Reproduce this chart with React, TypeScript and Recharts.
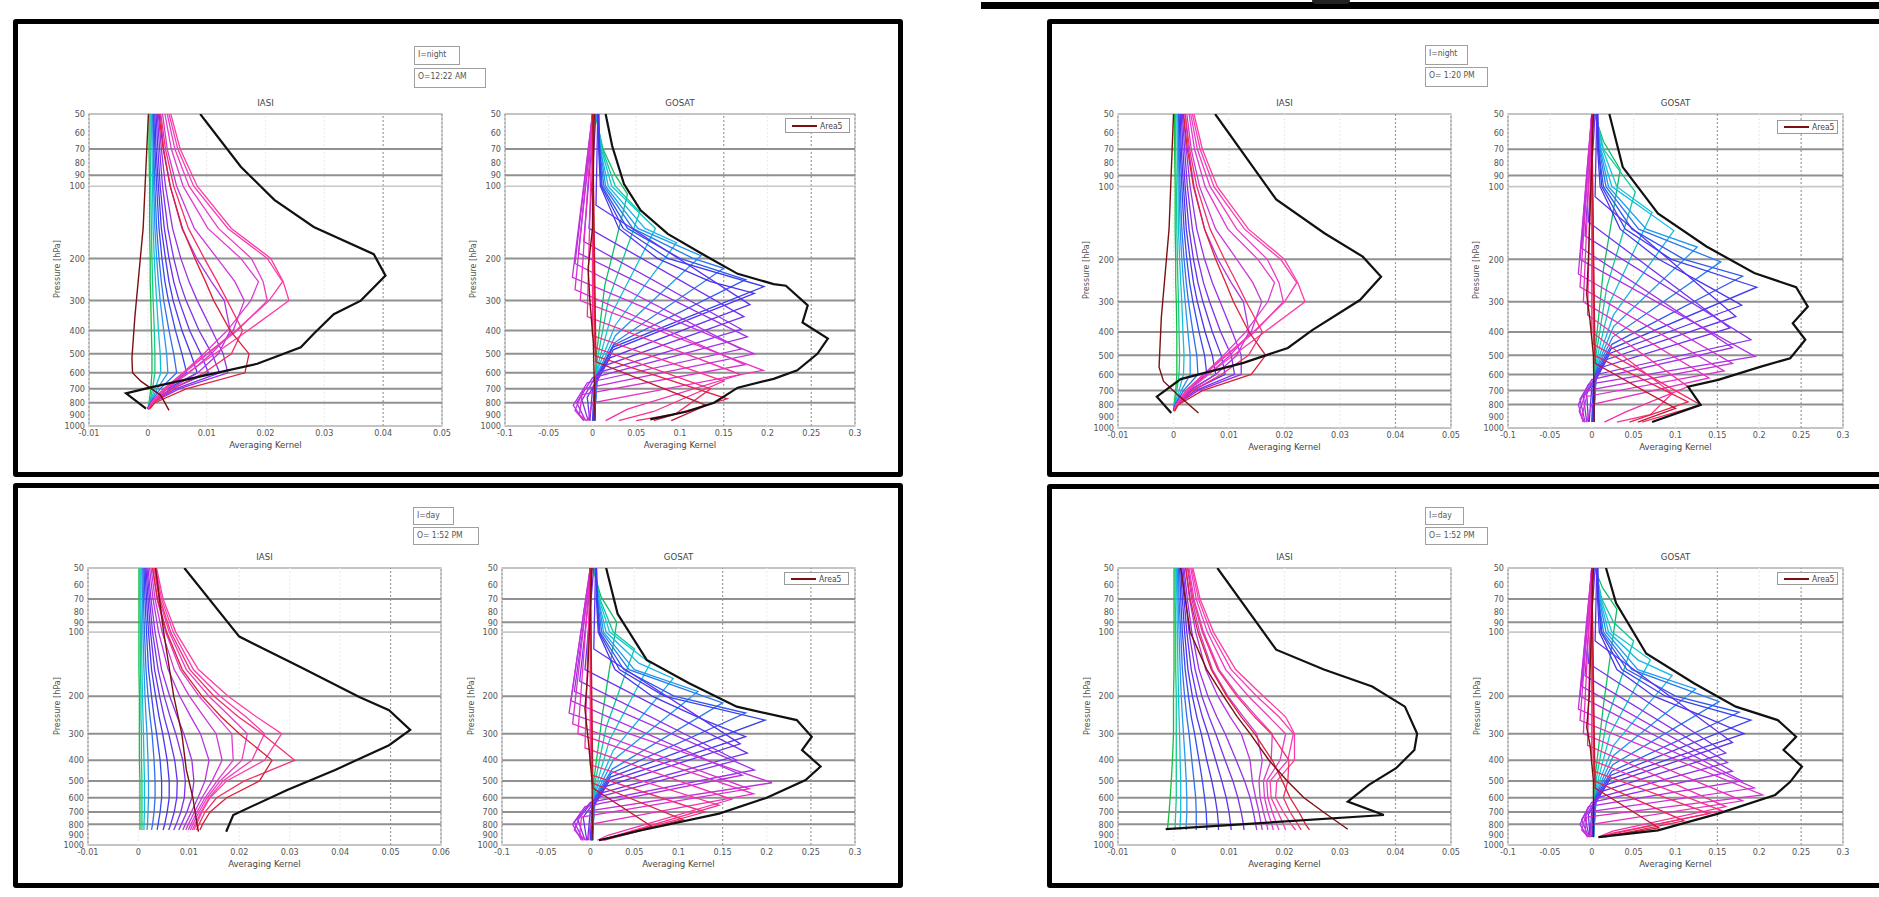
import React from 'react';
import { LineChart, Line, XAxis, YAxis, ReferenceLine, ReferenceArea } from 'recharts';

// ---------- axes ----------
const PRESSURE_TICKS = [50, 60, 70, 80, 90, 100, 200, 300, 400, 500, 600, 700, 800, 900, 1000];
const GRID_DARK = [70, 90, 200, 300, 400, 500, 600, 700, 800];
const GRID_LIGHT = [100];
const IASI_LEVELS = [50, 70, 100, 150, 200, 250, 300, 400, 500, 600, 700, 800, 850];
const IASI_TICKS = [-0.01, 0, 0.01, 0.02, 0.03, 0.04, 0.05];
const IASI_TICKS_WIDE = [-0.01, 0, 0.01, 0.02, 0.03, 0.04, 0.05, 0.06];
const GOSAT_TICKS = [-0.1, -0.05, 0, 0.05, 0.1, 0.15, 0.2, 0.25, 0.3];

const IASI_COLORS = ['#14c040', '#14c890', '#14c0d4', '#2898f0', '#3070f0', '#3848f0', '#4a34f0', '#6430f0', '#7e30ec',
  '#9830e8', '#b434e0', '#cc38d8', '#e03cd0', '#ec3cc4', '#f83cb4', '#ff3ca4', '#f4306c', '#dc2038'];
const GOSAT_COLORS = ['#10c060', '#10c8a0', '#10c8d0', '#18b8e8', '#2098f0', '#2878f0', '#3058f0', '#3a40f0', '#4a34f0',
  '#5c30f0', '#7030f0', '#8630ec', '#9c30e8', '#b030e4', '#c430dc', '#d830d0', '#e830c0', '#f430a8', '#fc308c',
  '#f42c6c', '#e6244c', '#c01830'];
const AREA5_COLOR = '#7a1010';

// ---------- IASI kernels (averaging kernel x 1e-3 at IASI_LEVELS) ----------
const nightAmIasiKernels = [
  [0.2, 0.2, 0.3, 0.3, 0.4, 0.4, 0.5, 0.6, 0.7, 0.7, 0.5, 0.2, 0],
  [0.4, 0.4, 0.5, 0.6, 0.7, 0.8, 0.9, 1.1, 1.2, 1.2, 0.8, 0.3, 0],
  [0.6, 0.7, 0.8, 0.9, 1.1, 1.3, 1.5, 1.8, 2.1, 2.2, 1.2, 0.3, 0],
  [0.8, 0.9, 1, 1.2, 1.5, 1.8, 2.1, 2.7, 3.2, 3.4, 1.6, 0.4, 0],
  [0.9, 1, 1.2, 1.5, 1.9, 2.3, 2.7, 3.6, 4.4, 4.9, 2.1, 0.4, 0],
  [1, 1.2, 1.5, 1.9, 2.4, 2.9, 3.5, 4.7, 5.8, 6.6, 2.7, 0.5, 0],
  [1.2, 1.4, 1.8, 2.3, 3, 3.6, 4.3, 5.8, 7.3, 8.4, 3.3, 0.5, 0],
  [1.4, 1.7, 2.1, 2.8, 3.6, 4.4, 5.3, 7.1, 9, 10.3, 4, 0.6, 0.1],
  [1.6, 2, 2.5, 3.4, 4.4, 5.4, 6.5, 8.7, 10.9, 12.2, 4.7, 0.7, 0.1],
  [1.8, 2.3, 3, 4.2, 5.6, 7, 8.4, 10.9, 12.8, 13.6, 5.3, 0.8, 0.1],
  [2.1, 2.7, 3.8, 5.8, 8.3, 10.8, 13, 14, 12, 8.5, 3.8, 0.7, 0.1],
  [2.5, 3.3, 4.9, 7.9, 11.8, 14.8, 16.4, 14.5, 10.8, 7, 3.2, 0.7, 0.1],
  [2.9, 4, 6, 10.2, 15.8, 18.8, 17.5, 13.5, 9.5, 6, 2.8, 0.6, 0.1],
  [3.3, 4.6, 7, 12, 17.6, 19.6, 20.3, 15.2, 10.2, 6.2, 2.8, 0.6, 0.1],
  [3.6, 5.1, 7.8, 13.6, 20.3, 22.9, 20.6, 15, 10, 6, 2.7, 0.6, 0.1],
  [3.9, 5.5, 8.4, 14.2, 20.9, 23, 24, 17, 11.4, 6.8, 3, 0.6, 0.1],
  [2.2, 3, 4.4, 6.9, 9.6, 11.8, 13.5, 16.1, 14.2, 9.6, 4.2, 0.9, 0.2],
  [1.9, 2.6, 3.8, 5.9, 8, 9.8, 11.2, 14, 17.2, 16.5, 6.5, 1.2, 0.3],
];
// [value x 1e-3, pressure] pairs
const nightAmIasiTotal = [8.9, 50, 15.8, 83, 21.5, 114, 28.2, 148, 38.4, 192, 40.4, 236, 36.2, 300, 31.6, 342, 28.2, 412, 26, 470, 18.6, 550, 0.5, 690, -3.7, 731, -0.3, 846];
const nightAmIasiArea5 = [0.1, 50, -0.8, 150, -2.2, 350, -2.7, 520, -2.6, 600, -1.2, 650, 2.2, 745, 3.6, 860];

const nightPmIasiKernels = [
  [0.2, 0.2, 0.3, 0.3, 0.4, 0.4, 0.5, 0.6, 0.6, 0.6, 0.4, 0.1, 0],
  [0.4, 0.4, 0.5, 0.6, 0.7, 0.8, 0.9, 1, 1.1, 1, 0.6, 0.2, 0],
  [0.6, 0.7, 0.8, 0.9, 1.1, 1.3, 1.5, 1.7, 1.9, 1.8, 1, 0.2, 0],
  [0.8, 0.9, 1, 1.2, 1.5, 1.8, 2.1, 2.6, 3, 3, 1.4, 0.3, 0],
  [0.9, 1, 1.2, 1.5, 1.9, 2.3, 2.7, 3.5, 4.2, 4.4, 1.8, 0.3, 0],
  [1, 1.2, 1.5, 1.9, 2.4, 2.9, 3.5, 4.6, 5.6, 6, 2.3, 0.4, 0],
  [1.2, 1.4, 1.8, 2.3, 3, 3.6, 4.3, 5.7, 7, 7.6, 2.8, 0.4, 0],
  [1.4, 1.7, 2.1, 2.8, 3.6, 4.4, 5.3, 7, 8.6, 9.3, 3.3, 0.5, 0],
  [1.6, 2, 2.5, 3.4, 4.4, 5.4, 6.5, 8.5, 10.4, 11, 3.9, 0.5, 0.1],
  [1.8, 2.3, 3, 4.2, 5.6, 7, 8.4, 10.6, 12.2, 12.2, 4.4, 0.6, 0.1],
  [2.1, 2.7, 3.7, 5.6, 8, 10.4, 12.6, 13.6, 11.4, 7.6, 3, 0.5, 0.1],
  [2.4, 3.2, 4.7, 7.6, 11.4, 14.3, 15.9, 14, 10.2, 6.3, 2.6, 0.5, 0.1],
  [2.8, 3.8, 5.7, 9.8, 15.2, 18.2, 17, 13, 9, 5.4, 2.3, 0.5, 0.1],
  [3.1, 4.3, 6.6, 11.4, 16.9, 19, 19.8, 14.6, 9.6, 5.6, 2.3, 0.5, 0.1],
  [3.4, 4.8, 7.3, 12.8, 19.3, 22.2, 20, 14.4, 9.4, 5.4, 2.2, 0.5, 0.1],
  [3.7, 5.2, 7.9, 13.5, 20, 22.4, 23.7, 16.4, 10.8, 6.2, 2.5, 0.5, 0.1],
  [2.1, 2.9, 4.2, 6.6, 9.2, 11.4, 13.1, 16, 13.5, 8.6, 3.5, 0.7, 0.2],
  [1.8, 2.5, 3.6, 5.6, 7.6, 9.4, 10.8, 13.6, 16.6, 14, 5.2, 0.9, 0.2],
];
const nightPmIasiTotal = [7.5, 50, 18.5, 113, 27.2, 156, 34.1, 195, 37.4, 236, 33.6, 295, 25, 393, 20.6, 466, 12.6, 537, 1.3, 627, -3, 742, -0.4, 866];
const nightPmIasiArea5 = [0, 50, -0.8, 150, -2.2, 350, -2.6, 560, -1.8, 640, 0.5, 720, 4.5, 866];

const dayLeftIasiKernels = [
  [0.1, 0.1, 0.1, 0.1, 0.2, 0.2, 0.2, 0.2, 0.3, 0.3, 0.3, 0.3, 0.3],
  [0.3, 0.3, 0.4, 0.4, 0.5, 0.5, 0.6, 0.6, 0.7, 0.7, 0.7, 0.7, 0.7],
  [0.5, 0.5, 0.6, 0.7, 0.8, 0.9, 1, 1.1, 1.2, 1.2, 1.2, 1.1, 1.1],
  [0.7, 0.8, 0.9, 1.1, 1.3, 1.5, 1.7, 1.9, 2, 2, 1.9, 1.8, 1.7],
  [0.9, 1, 1.2, 1.5, 1.9, 2.3, 2.7, 3.1, 3.3, 3.3, 3.1, 2.8, 2.6],
  [1.1, 1.3, 1.6, 2, 2.6, 3.1, 3.6, 4.3, 4.6, 4.6, 4.3, 3.9, 3.7],
  [1.3, 1.6, 2, 2.6, 3.4, 4.1, 4.8, 5.7, 6.1, 6.1, 5.7, 5.2, 4.9],
  [1.5, 1.9, 2.4, 3.2, 4.2, 5.1, 6, 7.2, 7.7, 7.6, 7.1, 6.4, 6],
  [1.7, 2.2, 2.8, 3.9, 5.1, 6.3, 7.4, 8.8, 9.3, 9.1, 8.4, 7.5, 7],
  [1.9, 2.5, 3.3, 4.6, 6.2, 7.7, 9, 10.6, 11, 10.6, 9.6, 8.5, 8],
  [2.2, 2.9, 4, 5.9, 8.2, 10.4, 12.3, 14, 13.2, 11.8, 10.5, 9.3, 8.8],
  [2.5, 3.3, 4.7, 7.1, 10.1, 13, 15.4, 16.6, 14.6, 12.6, 11.1, 9.9, 9.4],
  [2.8, 3.7, 5.4, 8.3, 12, 15.6, 18.5, 18.8, 15.6, 13.2, 11.6, 10.4, 9.9],
  [3.1, 4.1, 6.1, 9.5, 14, 18.2, 21.6, 20.5, 16.2, 13.6, 12, 10.8, 10.3],
  [3.4, 4.6, 6.9, 10.9, 16.2, 21.3, 25, 22.5, 16.8, 14, 12.4, 11.2, 10.7],
  [3.6, 4.9, 7.4, 11.9, 17.8, 23.4, 28.4, 25, 17.5, 14.2, 12.6, 11.5, 11],
  [3.2, 4.3, 6.4, 10.2, 15, 19.8, 24.5, 31, 21, 15.5, 13.2, 12, 11.5],
  [2.8, 3.8, 5.6, 8.7, 12.6, 16.4, 20, 26.5, 24, 17.5, 14.2, 12.7, 12.2],
];
const dayLeftIasiTotal = [9.1, 50, 20, 105, 31.9, 145, 43.8, 202, 49.7, 233, 53.9, 288, 49.7, 340, 39, 444, 29.5, 551, 18.8, 723, 17.4, 866];
const dayLeftIasiArea5 = [3.4, 50, 5, 100, 7, 200, 8.6, 300, 9.5, 444, 10.8, 600, 11.7, 823, 11.9, 866];

const dayRightIasiKernels = [
  [0.1, 0.1, 0.1, 0.1, 0, 0, 0, -0.2, -0.4, -0.6, -0.8, -1, -1.1],
  [0.3, 0.3, 0.4, 0.4, 0.5, 0.5, 0.5, 0.5, 0.5, 0.5, 0.4, 0.3, 0.3],
  [0.5, 0.6, 0.7, 0.8, 0.9, 1, 1.1, 1.2, 1.3, 1.3, 1.3, 1.2, 1.2],
  [0.7, 0.8, 1, 1.2, 1.4, 1.6, 1.8, 2.1, 2.3, 2.4, 2.4, 2.3, 2.3],
  [0.9, 1, 1.3, 1.6, 2, 2.4, 2.8, 3.3, 3.7, 4, 4.1, 4.1, 4.1],
  [1.1, 1.3, 1.6, 2.1, 2.7, 3.2, 3.8, 4.6, 5.2, 5.6, 5.9, 6, 6],
  [1.3, 1.6, 2, 2.6, 3.4, 4.2, 5, 6, 6.9, 7.5, 7.9, 8.1, 8.1],
  [1.5, 1.9, 2.4, 3.2, 4.2, 5.2, 6.2, 7.6, 8.7, 9.5, 10, 10.3, 10.4],
  [1.7, 2.2, 2.8, 3.9, 5.1, 6.4, 7.6, 9.3, 10.7, 11.6, 12.2, 12.6, 12.7],
  [1.9, 2.5, 3.3, 4.6, 6.2, 7.8, 9.3, 11.3, 12.8, 13.8, 14.4, 14.8, 15],
  [2.2, 2.9, 4, 5.8, 8, 10.2, 12.2, 13.8, 14.2, 14.8, 15.4, 15.8, 16],
  [2.5, 3.3, 4.7, 7, 9.8, 12.6, 15, 16, 15.4, 15.6, 16.2, 16.8, 17],
  [2.8, 3.7, 5.4, 8.2, 11.7, 15, 17.8, 17.6, 16.2, 16.4, 17, 17.7, 18],
  [3.1, 4.1, 6.1, 9.4, 13.5, 17.2, 20.2, 19.2, 16.8, 17, 17.8, 18.6, 19],
  [3.3, 4.5, 6.7, 10.4, 15, 19, 21.6, 20.6, 17.4, 17.6, 18.8, 19.8, 20.2],
  [3.5, 4.8, 7.2, 11.2, 16.2, 20.2, 21.8, 21.8, 18.6, 18.4, 19.8, 21.2, 22],
  [2.6, 3.5, 5.2, 8, 11.4, 14.6, 17.6, 20.8, 20.6, 19.8, 21, 22.4, 23],
  [2.2, 3, 4.4, 6.8, 9.6, 12.2, 14.6, 17.8, 19.6, 21, 22.6, 23.8, 24.5],
];
const dayRightIasiTotal = [7.9, 50, 18.5, 121, 27.1, 150, 35.8, 180, 41.7, 224, 43.9, 300, 43.4, 358, 40.1, 436, 35.2, 522, 31.4, 625, 37.9, 723, -1.4, 843];
const dayRightIasiArea5 = [1.3, 50, 3, 100, 6, 150, 9, 200, 11.5, 250, 13.8, 300, 17.2, 400, 20.5, 500, 23.5, 600, 27, 700, 31.4, 843];

// ---------- GOSAT kernels ([value x 1e-2, pressure] pairs) ----------
const nightAmGosatKernels = [
  [0.3, 50, 1.2, 70, 2.6, 90, 4, 108, 1.4, 260, 0.4, 520, 0.2, 950],
  [0.4, 50, 1.1, 70, 2.6, 100, 5.4, 128, 1.8, 300, 0.5, 540, 0.2, 950],
  [0.5, 50, 1, 70, 2.2, 100, 7.2, 150, 2.2, 340, 0.6, 560, 0.2, 950],
  [0.5, 50, 0.9, 70, 1.8, 100, 6, 150, 9.6, 172, 2.6, 380, 0.6, 580, 0.2, 950],
  [0.6, 50, 0.9, 70, 1.5, 100, 5.2, 150, 12.4, 195, 2.6, 420, 0.6, 600, 0.2, 950],
  [0.6, 50, 0.8, 70, 1.3, 100, 4.6, 150, 11.5, 200, 15, 220, 2.5, 450, 0.5, 620, 0.2, 950],
  [0.7, 50, 0.8, 70, 1.1, 100, 4, 150, 10, 200, 17.5, 245, 2.4, 460, 0.4, 640, 0.1, 950],
  [0.7, 50, 0.8, 70, 1, 100, 3.5, 150, 8.6, 200, 19.6, 262, 2.3, 470, 0.3, 660, 0.1, 950],
  [0.7, 50, 0.7, 70, 0.9, 100, 3, 150, 7.4, 200, 13.5, 250, 18.5, 280, 2.4, 480, 0.2, 680, 0, 950],
  [0.6, 50, 0.4, 120, 18, 312, 2, 520, 0, 700, -0.3, 950],
  [0.4, 50, -0.4, 150, 17.3, 350, 1.4, 560, -0.6, 760, -0.3, 950],
  [0.2, 50, -1, 170, 17, 395, 0.6, 600, -1.2, 780, -0.5, 950],
  [0.1, 50, -1.6, 190, 17.7, 425, 0, 630, -1.8, 800, -0.8, 950],
  [0, 50, -2, 210, 17, 478, -0.6, 660, -2.2, 820, -1, 950],
  [0, 50, -2.3, 240, 18.5, 500, -1, 700, -2, 860, -1, 950],
  [0, 50, -2, 270, 17.4, 555, -1.2, 740, -1.5, 900, -0.6, 950],
  [0, 50, -1.4, 300, 19.5, 586, 0, 800, -0.5, 950],
  [0, 50, -0.6, 350, 16.9, 610, 4, 850, 1.5, 950],
  [0, 50, 0, 420, 15, 650, 7, 870, 3, 950],
  [0, 50, 0.2, 470, 13.5, 700, 9.5, 890, 5, 950],
  [0, 50, 0.3, 510, 15.4, 770, 7, 950],
  [0, 50, 0.4, 540, 13, 820, 9, 950],
];
const nightAmGosatTotal = [1.5, 50, 2.25, 68, 3.6, 98, 5.5, 126, 8.6, 158, 13.1, 197, 16.6, 232, 20.7, 256, 22.1, 260, 24.6, 314, 24, 370, 26.9, 432, 25.7, 500, 23.4, 586, 20.7, 636, 16.6, 692, 13.9, 800, 10.8, 870, 6.6, 938];
const nightAmGosatArea5 = [0.2, 50, 0, 150, -0.5, 220, -0.3, 300, 0.1, 450, 0.3, 950];

const nightPmGosatKernels = [
  [0.3, 50, 1.4, 65, 3.4, 85, 1.4, 220, 0.4, 480, 0.2, 945],
  [0.4, 50, 1.4, 70, 5.2, 105, 1.8, 260, 0.5, 500, 0.2, 945],
  [0.5, 50, 1.3, 70, 3, 100, 7.2, 128, 2.2, 300, 0.6, 520, 0.2, 945],
  [0.5, 50, 1.1, 70, 2.4, 100, 9.8, 152, 2.6, 340, 0.6, 540, 0.2, 945],
  [0.6, 50, 1, 70, 2, 100, 6.5, 150, 12.6, 178, 2.6, 380, 0.6, 560, 0.2, 945],
  [0.6, 50, 0.9, 70, 1.7, 100, 5.6, 150, 15.4, 205, 2.5, 420, 0.5, 580, 0.2, 945],
  [0.7, 50, 0.8, 70, 1.4, 100, 4.8, 150, 11, 200, 18, 235, 2.4, 450, 0.4, 600, 0.1, 945],
  [0.7, 50, 0.8, 70, 1.2, 100, 4, 150, 9.5, 200, 19.7, 261, 2.3, 470, 0.3, 620, 0.1, 945],
  [0.7, 50, 0.7, 70, 1, 100, 3.4, 150, 8, 200, 14, 260, 17.9, 310, 2.2, 490, 0.2, 640, 0, 945],
  [0.6, 50, 0.4, 110, 17.2, 345, 1.8, 520, 0, 680, -0.3, 945],
  [0.4, 50, -0.4, 140, 16.5, 385, 1.2, 560, -0.6, 720, -0.4, 945],
  [0.2, 50, -0.8, 160, 19, 431, 0.6, 600, -1, 740, -0.6, 945],
  [0.1, 50, -1.2, 180, 16.8, 465, 0, 630, -1.4, 760, -0.8, 945],
  [0, 50, -1.4, 200, 19.5, 505, -0.4, 660, -1.6, 800, -1, 945],
  [0, 50, -1.6, 230, 16.8, 540, -0.6, 700, -1.5, 850, -1, 945],
  [0, 50, -1.4, 260, 15.8, 580, -0.6, 740, -1.2, 900, -0.8, 945],
  [0, 50, -1, 300, 14, 620, 0, 800, -0.6, 945],
  [0, 50, -0.5, 340, 11.5, 674, 4, 860, 1.5, 945],
  [0, 50, 0, 400, 9.6, 720, 7, 880, 3, 945],
  [0, 50, 0.2, 450, 13, 802, 6, 945],
  [0, 50, 0.3, 500, 11.5, 780, 4.5, 945],
  [0, 50, 0.4, 540, 10, 830, 5.5, 945],
];
const nightPmGosatTotal = [2.1, 50, 3.7, 83, 7.9, 129, 13.7, 177, 19.4, 228, 24.4, 261, 25.8, 314, 24, 368, 25.5, 431, 23.7, 514, 20.1, 558, 15.1, 632, 11.5, 674, 13, 802, 7.2, 945];
const nightPmGosatArea5 = [0.2, 50, -0.4, 200, -0.6, 280, -0.2, 360, 0.2, 500, 0.3, 945];

const dayLeftGosatKernels = [
  [0.3, 50, 1.2, 68, 3, 90, 1.4, 240, 0.4, 500, 0.2, 950],
  [0.4, 50, 1.1, 70, 2.6, 100, 5, 120, 1.8, 280, 0.5, 520, 0.2, 950],
  [0.5, 50, 1, 70, 2.2, 100, 6.8, 140, 2.2, 320, 0.6, 540, 0.2, 950],
  [0.5, 50, 0.9, 70, 1.8, 100, 5.5, 140, 9.4, 165, 2.6, 360, 0.6, 560, 0.2, 950],
  [0.6, 50, 0.9, 70, 1.5, 100, 5, 150, 12.2, 190, 2.6, 400, 0.6, 580, 0.2, 950],
  [0.6, 50, 0.8, 70, 1.3, 100, 4.4, 150, 15, 215, 2.5, 440, 0.5, 600, 0.2, 950],
  [0.7, 50, 0.8, 70, 1.1, 100, 3.8, 150, 9.5, 200, 17.6, 240, 2.4, 460, 0.4, 620, 0.1, 950],
  [0.7, 50, 0.8, 70, 1, 100, 3.3, 150, 8.4, 200, 19.8, 259, 2.3, 480, 0.3, 640, 0.1, 950],
  [0.7, 50, 0.7, 70, 0.9, 100, 2.8, 150, 7, 200, 13, 260, 17.6, 310, 2.2, 500, 0.2, 660, 0, 950],
  [0.6, 50, 0.4, 120, 17, 335, 1.8, 530, 0, 700, -0.3, 950],
  [0.4, 50, -0.6, 150, 17.8, 370, 1.2, 570, -0.8, 740, -0.4, 950],
  [0.2, 50, -1.2, 170, 16.6, 400, 0.6, 600, -1.4, 760, -0.6, 950],
  [0.1, 50, -1.8, 190, 18.6, 444, 0, 630, -1.8, 780, -0.8, 950],
  [0, 50, -2.2, 210, 17.2, 470, -0.6, 660, -2, 800, -1, 950],
  [0, 50, -2.4, 240, 20.6, 510, -1, 700, -1.8, 850, -0.8, 950],
  [0, 50, -2, 270, 18, 545, -1, 740, -1.2, 900, -0.4, 950],
  [0, 50, -1.4, 300, 18.5, 575, 0, 800, -0.2, 950],
  [0, 50, -0.6, 350, 16, 610, 2, 900, 0.8, 950],
  [0, 50, 0, 420, 14.6, 650, 3, 900, 1, 950],
  [0, 50, 0.2, 470, 13, 700, 2.5, 920, 1, 950],
  [0, 50, 0.2, 510, 10.5, 760, 1.5, 950],
  [0, 50, 0.3, 540, 7, 820, 1, 950],
];
const dayLeftGosatTotal = [1.8, 50, 3.1, 82, 6.4, 135, 11.2, 174, 16.6, 224, 23.4, 259, 25.1, 310, 24, 358, 26.1, 428, 24.4, 495, 20, 600, 14.6, 712, 5.8, 853, 1, 950];
const dayLeftGosatArea5 = [0.2, 50, -0.3, 160, -0.6, 230, -0.2, 330, 0.2, 500, 0.3, 950];

const dayRightGosatKernels = [
  [0.3, 50, 1.3, 62, 3, 78, 1.4, 220, 0.4, 480, 0.2, 918],
  [0.4, 50, 1.2, 70, 2.6, 90, 5, 110, 1.8, 260, 0.5, 500, 0.2, 918],
  [0.5, 50, 1.1, 70, 2.4, 100, 7, 135, 2.2, 300, 0.6, 520, 0.2, 918],
  [0.5, 50, 1, 70, 2, 100, 5.5, 135, 9.6, 160, 2.6, 340, 0.6, 540, 0.2, 918],
  [0.6, 50, 0.9, 70, 1.7, 100, 5.5, 150, 12.4, 185, 2.6, 380, 0.6, 560, 0.2, 918],
  [0.6, 50, 0.8, 70, 1.4, 100, 4.8, 150, 15.2, 212, 2.5, 420, 0.5, 580, 0.2, 918],
  [0.7, 50, 0.8, 70, 1.2, 100, 4.2, 150, 10, 200, 17.6, 238, 2.4, 450, 0.4, 600, 0.1, 918],
  [0.7, 50, 0.8, 70, 1.1, 100, 3.6, 150, 8.8, 200, 19, 259, 2.3, 470, 0.3, 620, 0.1, 918],
  [0.7, 50, 0.7, 70, 0.9, 100, 3, 150, 7.4, 200, 13.5, 250, 18.2, 300, 2.2, 490, 0.2, 640, 0, 918],
  [0.6, 50, 0.4, 110, 16.8, 330, 1.8, 520, 0, 680, -0.2, 918],
  [0.4, 50, -0.4, 140, 16, 370, 1.2, 560, -0.4, 720, -0.2, 918],
  [0.2, 50, -0.8, 160, 16.2, 410, 0.6, 600, -0.8, 740, -0.3, 918],
  [0.1, 50, -1.2, 180, 16.8, 450, 0, 630, -1.2, 760, -0.4, 918],
  [0, 50, -1.4, 200, 17.9, 500, -0.4, 660, -1.4, 800, -0.5, 918],
  [0, 50, -1.6, 230, 19.4, 540, -0.6, 700, -1.2, 850, -0.4, 918],
  [0, 50, -1.4, 260, 20.4, 582, -0.6, 740, -0.8, 880, -0.2, 918],
  [0, 50, -1, 300, 18, 620, 0, 800, -0.2, 918],
  [0, 50, -0.5, 340, 16, 660, 2.5, 860, 0.8, 918],
  [0, 50, 0, 400, 15.5, 690, 3.5, 870, 1, 918],
  [0, 50, 0.2, 450, 14, 712, 2.5, 880, 1, 918],
  [0, 50, 0.3, 500, 11, 770, 1.5, 918],
  [0, 50, 0.4, 540, 8, 830, 1, 918],
];
const dayRightGosatTotal = [1.7, 50, 2.9, 73, 6.5, 126, 12.2, 174, 17.2, 224, 22.2, 259, 24.4, 310, 22.9, 358, 25.1, 428, 23.7, 505, 21.9, 582, 15.1, 712, 7.9, 853, 0.8, 918];
const dayRightGosatArea5 = [0.2, 50, -0.3, 200, -0.6, 280, -0.2, 340, 0.2, 500, 0.2, 918];

// ---------- helpers to build series rows ----------
type Row = { p: number; v: number };
type Series = { rows: Row[]; color: string; width: number };

const levelRows = (vals: number[], unit: number): Row[] => IASI_LEVELS.map((p, i) => ({ p, v: vals[i] * unit }));
const pairRows = (pairs: number[], unit: number): Row[] => {
  const out: Row[] = [];
  for (let i = 0; i < pairs.length; i += 2) out.push({ p: pairs[i + 1], v: pairs[i] * unit });
  return out;
};

const iasiSeries = (kernels: number[][], area5: number[], total: number[]): Series[] => [
  ...kernels.map((k, i) => ({ rows: levelRows(k, 1e-3), color: IASI_COLORS[i], width: 1.3 })),
  { rows: pairRows(area5, 1e-3), color: AREA5_COLOR, width: 1.4 },
  { rows: pairRows(total, 1e-3), color: '#111', width: 2.2 },
];
const gosatSeries = (kernels: number[][], area5: number[], total: number[]): Series[] => [
  ...kernels.map((k, i) => ({ rows: pairRows(k, 1e-2), color: GOSAT_COLORS[i], width: 1.3 })),
  { rows: pairRows(area5, 1e-2), color: AREA5_COLOR, width: 1.4 },
  { rows: pairRows(total, 1e-2), color: '#111', width: 2.2 },
];

type PlotCfg = {
  title: string; left: number; top: number; width: number; height: number;
  domain: [number, number]; ticks: number[]; dashed: number[]; series: Series[];
  legend?: { left: number; top: number; width: number; height: number };
};

const FONT = '"Liberation Sans Narrow", "DejaVu Sans Condensed", "Liberation Sans", Arial, sans-serif';
const ML = 6, YW = 34, MT = 10, MR = 18, MB = 6, XH = 20;
const fmt = (v: number) => String(Number(v.toFixed(3)));
const tickStyle = { fontSize: 9, fill: '#555', fontFamily: FONT };

function Subplot({ cfg }: { cfg: PlotCfg }) {
  const { left, top, width, height, domain, ticks, dashed, series, title, legend } = cfg;
  return (
    <>
      <div style={{ position: 'absolute', left: left - ML - YW, top: top - MT }}>
        <LineChart layout="vertical" width={width + ML + YW + MR} height={height + MT + MB + XH}
          margin={{ top: MT, right: MR, bottom: MB, left: ML }}>
          <XAxis type="number" domain={domain} ticks={ticks} interval={0} allowDataOverflow height={XH}
            tickFormatter={fmt} tick={tickStyle} tickLine={false} axisLine={false} tickSize={3} tickMargin={1} />
          <YAxis type="number" dataKey="p" scale="log" domain={[50, 1000]} ticks={PRESSURE_TICKS} interval={0}
            allowDataOverflow width={YW} tick={tickStyle} tickLine={false} axisLine={false} tickSize={3} tickMargin={1} />
          {ticks.map((t) => (
            <ReferenceLine key={'vx' + t} x={t} stroke={dashed.includes(t) ? '#9c9c9c' : '#ececec'}
              strokeDasharray="2 2" strokeWidth={1.2} />
          ))}
          {GRID_LIGHT.map((p) => <ReferenceLine key={'hl' + p} y={p} stroke="#c8c8c8" strokeWidth={1.6} />)}
          {GRID_DARK.map((p) => <ReferenceLine key={'hd' + p} y={p} stroke="#909090" strokeWidth={2} />)}
          <ReferenceArea x1={domain[0]} x2={domain[1]} y1={50} y2={1000} fill="none" stroke="#8a8a8a" strokeWidth={1.2} />
          {series.map((s, i) => (
            <Line key={i} data={s.rows} dataKey="v" type="linear" stroke={s.color} strokeWidth={s.width}
              dot={false} activeDot={false} isAnimationActive={false} legendType="none" />
          ))}
        </LineChart>
      </div>
      <div style={{ position: 'absolute', left, width, top: top - 17, textAlign: 'center', fontSize: 9.5, color: '#444', fontFamily: FONT }}>{title}</div>
      <div style={{ position: 'absolute', left, width, top: top + height + 13, textAlign: 'center', fontSize: 9.5, color: '#444', fontFamily: FONT }}>Averaging Kernel</div>
      <div style={{ position: 'absolute', left: left - 32 - height / 2, top: top + height / 2 - 6, width: height, textAlign: 'center',
        fontSize: 9, color: '#555', fontFamily: FONT, transform: 'rotate(-90deg)' }}>Pressure [hPa]</div>
      {legend && (
        <div style={{ position: 'absolute', left: legend.left, top: legend.top, width: legend.width, height: legend.height,
          border: '1px solid #9a9a9a', boxSizing: 'border-box', background: '#fff', display: 'flex', alignItems: 'center' }}>
          <div style={{ marginLeft: 6, width: 25, height: 2, background: AREA5_COLOR }} />
          <span style={{ marginLeft: 3, fontSize: 8.5, color: '#444', fontFamily: FONT }}>Area5</span>
        </div>
      )}
    </>
  );
}

function Note({ left, top, width, height, text }: { left: number; top: number; width: number; height: number; text: string }) {
  return (
    <div style={{ position: 'absolute', left, top, width, height, border: '1px solid #a0a0a0', boxSizing: 'border-box',
      fontSize: 8.5, color: '#555', fontFamily: FONT, padding: '2px 3px', lineHeight: '10px', whiteSpace: 'nowrap' }}>{text}</div>
  );
}

const panelBox = (left: number, top: number, width: number, height: number) => (
  <div style={{ position: 'absolute', left, top, width, height, border: '5px solid #000', borderRadius: 3, boxSizing: 'border-box' }} />
);

const plots: PlotCfg[] = [
  { title: 'IASI', left: 89, top: 114, width: 353, height: 312, domain: [-0.01, 0.05], ticks: IASI_TICKS, dashed: [0.04],
    series: iasiSeries(nightAmIasiKernels, nightAmIasiArea5, nightAmIasiTotal) },
  { title: 'GOSAT', left: 505, top: 114, width: 350, height: 312, domain: [-0.1, 0.3], ticks: GOSAT_TICKS, dashed: [0.15, 0.25],
    series: gosatSeries(nightAmGosatKernels, nightAmGosatArea5, nightAmGosatTotal), legend: { left: 785, top: 118, width: 65, height: 15 } },
  { title: 'IASI', left: 1118, top: 114, width: 333, height: 314, domain: [-0.01, 0.05], ticks: IASI_TICKS, dashed: [0.04],
    series: iasiSeries(nightPmIasiKernels, nightPmIasiArea5, nightPmIasiTotal) },
  { title: 'GOSAT', left: 1508, top: 114, width: 335, height: 314, domain: [-0.1, 0.3], ticks: GOSAT_TICKS, dashed: [0.15, 0.25],
    series: gosatSeries(nightPmGosatKernels, nightPmGosatArea5, nightPmGosatTotal), legend: { left: 1777, top: 120, width: 61, height: 14 } },
  { title: 'IASI', left: 88, top: 568, width: 353, height: 277, domain: [-0.01, 0.06], ticks: IASI_TICKS_WIDE, dashed: [0.05],
    series: iasiSeries(dayLeftIasiKernels, dayLeftIasiArea5, dayLeftIasiTotal) },
  { title: 'GOSAT', left: 502, top: 568, width: 353, height: 277, domain: [-0.1, 0.3], ticks: GOSAT_TICKS, dashed: [0.15, 0.25],
    series: gosatSeries(dayLeftGosatKernels, dayLeftGosatArea5, dayLeftGosatTotal), legend: { left: 784, top: 572, width: 65, height: 13 } },
  { title: 'IASI', left: 1118, top: 568, width: 333, height: 277, domain: [-0.01, 0.05], ticks: IASI_TICKS, dashed: [0.04],
    series: iasiSeries(dayRightIasiKernels, dayRightIasiArea5, dayRightIasiTotal) },
  { title: 'GOSAT', left: 1508, top: 568, width: 335, height: 277, domain: [-0.1, 0.3], ticks: GOSAT_TICKS, dashed: [0.15, 0.25],
    series: gosatSeries(dayRightGosatKernels, dayRightGosatArea5, dayRightGosatTotal), legend: { left: 1777, top: 572, width: 61, height: 13 } },
];

export default function App() {
  return (
    <div style={{ position: 'absolute', left: 0, top: 0, width: 1879, height: 897, background: '#fff', overflow: 'hidden' }}>
      {/* top rule */}
      <div style={{ position: 'absolute', left: 981, top: 2, width: 900, height: 7, background: '#000' }} />
      <div style={{ position: 'absolute', left: 1312, top: 0, width: 38, height: 4, background: '#222', borderRadius: '0 0 8px 8px' }} />
      {panelBox(13, 19, 890, 458)}
      {panelBox(13, 483, 890, 405)}
      {panelBox(1047, 19, 840, 458)}
      {panelBox(1047, 484, 840, 404)}

      <Note left={414} top={46} width={46} height={19} text="I=night" />
      <Note left={414} top={68} width={72} height={20} text="O=12:22 AM" />
      <Note left={1425} top={45} width={43} height={20} text="I=night" />
      <Note left={1425} top={67} width={63} height={20} text="O= 1:20 PM" />
      <Note left={413} top={507} width={41} height={18} text="I=day" />
      <Note left={413} top={527} width={66} height={18} text="O= 1:52 PM" />
      <Note left={1425} top={507} width={39} height={18} text="I=day" />
      <Note left={1425} top={527} width={63} height={18} text="O= 1:52 PM" />

      {plots.map((cfg, i) => <Subplot key={i} cfg={cfg} />)}
    </div>
  );
}
